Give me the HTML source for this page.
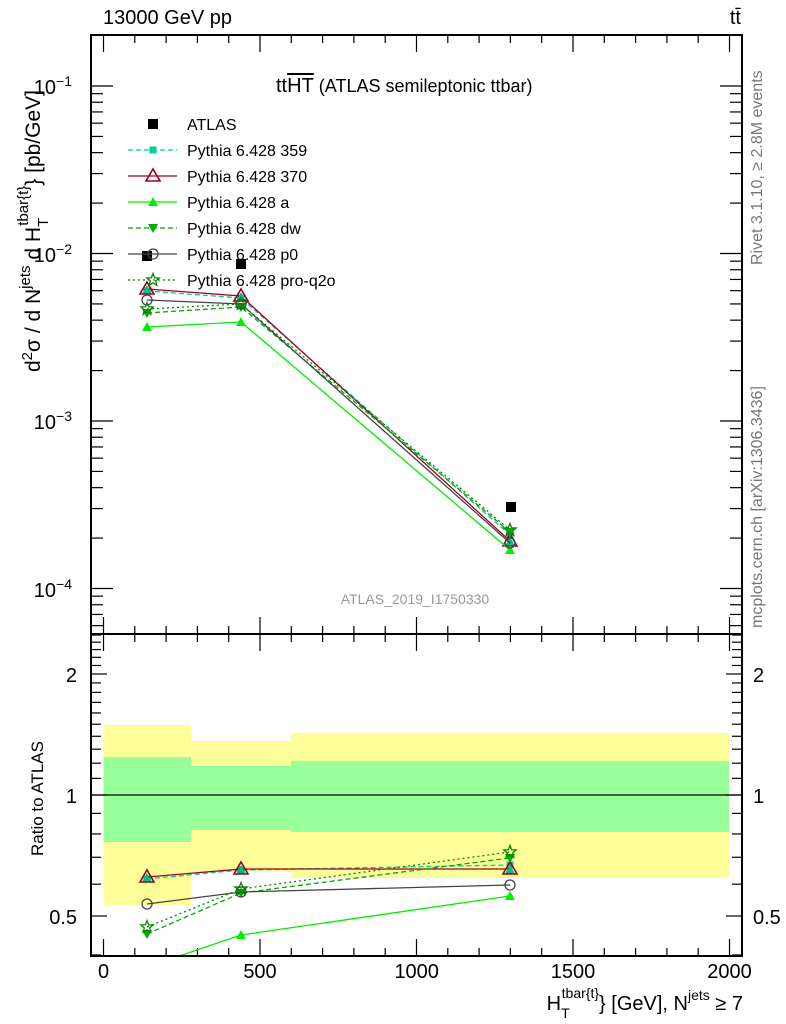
<!DOCTYPE html>
<html><head><meta charset="utf-8"><style>
body{margin:0;background:#fff}
svg{display:block;font-family:"Liberation Sans",sans-serif}
</style></head><body>
<svg id="s" width="786" height="1024" xmlns="http://www.w3.org/2000/svg">
<rect width="786" height="1024" fill="#fff"/>
<rect x="103.5" y="725" width="87.5" height="180" fill="#ffff99"/>
<rect x="191" y="741" width="100" height="131" fill="#ffff99"/>
<rect x="291" y="733" width="438" height="145" fill="#ffff99"/>
<rect x="103.5" y="757" width="87.5" height="85" fill="#99ff99"/>
<rect x="191" y="766" width="100" height="64" fill="#99ff99"/>
<rect x="291" y="761" width="438" height="71" fill="#99ff99"/>
<line x1="91" y1="795" x2="742" y2="795" stroke="#000" stroke-width="1.2"/>
<g id="ticks" stroke="#000" stroke-width="1.2"></g>
<g id="series"></g>
<rect x="91" y="35" width="651" height="599" fill="none" stroke="#000" stroke-width="2"/>
<rect x="91" y="634" width="651" height="322" fill="none" stroke="#000" stroke-width="2"/>
<g font-size="20" fill="#000">
<text x="103" y="24">13000 GeV pp</text>
<text x="741" y="24" text-anchor="end">tt̄</text>
<text x="72" y="94" text-anchor="end">10<tspan dy="-8" font-size="14">−1</tspan></text>
<text x="72" y="262" text-anchor="end">10<tspan dy="-8" font-size="14">−2</tspan></text>
<text x="72" y="429" text-anchor="end">10<tspan dy="-8" font-size="14">−3</tspan></text>
<text x="72" y="597" text-anchor="end">10<tspan dy="-8" font-size="14">−4</tspan></text>
<text x="77" y="682" text-anchor="end">2</text>
<text x="77" y="803" text-anchor="end">1</text>
<text x="77" y="924" text-anchor="end">0.5</text>
<text x="753" y="682">2</text>
<text x="753" y="803">1</text>
<text x="753" y="924">0.5</text>
<text x="103.5" y="978" text-anchor="middle">0</text>
<text x="260" y="978" text-anchor="middle">500</text>
<text x="416.7" y="978" text-anchor="middle">1000</text>
<text x="573" y="978" text-anchor="middle">1500</text>
<text x="729.5" y="978" text-anchor="middle">2000</text>
<text x="743" y="1010" text-anchor="end">H<tspan font-size="14" dy="8">T</tspan><tspan font-size="14" dx="-8" dy="-20">tbar{t}</tspan><tspan dy="12">} [GeV], N</tspan><tspan font-size="14" dy="-10">jets</tspan><tspan dy="10"> ≥ 7</tspan></text>
<text transform="translate(40,372) rotate(-90)" font-size="21">d<tspan font-size="15" dy="-8">2</tspan><tspan dy="8">σ  /  d N</tspan><tspan font-size="15" dy="-10">jets</tspan><tspan dy="10"> d H</tspan><tspan font-size="15" dy="8">T</tspan><tspan font-size="15" dx="-8" dy="-20">tbar{t}</tspan><tspan dy="12">} [pb/GeV]</tspan></text>
<text x="276" y="92">tt<tspan text-decoration="overline">HT</tspan><tspan font-size="18"> (ATLAS semileptonic ttbar)</tspan></text>
</g>
<text transform="translate(43,856) rotate(-90)" font-size="17">Ratio to ATLAS</text>
<text x="415" y="604" text-anchor="middle" font-size="14" fill="#999">ATLAS_2019_I1750330</text>
<text transform="translate(762,265) rotate(-90)" font-size="16" fill="#777">Rivet 3.1.10, ≥ 2.8M events</text>
<text transform="translate(762,628) rotate(-90)" font-size="16" fill="#777">mcplots.cern.ch [arXiv:1306.3436]</text>
<g id="legend" font-size="16"></g>
</svg>
<script>
var NS="http://www.w3.org/2000/svg";
function el(p,t,a){var e=document.createElementNS(NS,t);for(var k in a)e.setAttribute(k,a[k]);p.appendChild(e);return e;}
var T=document.getElementById("ticks");
function ln(x1,y1,x2,y2){el(T,"line",{x1:x1,y1:y1,x2:x2,y2:y2});}
for(var v=0;v<=2000;v+=100){var x=103.5+0.313*v,maj=v%500==0;
 ln(x,35,x,35+(maj?17:8));ln(x,634,x,634-(maj?17:8));
 ln(x,634,x,634+(maj?17:8));ln(x,956,x,956-(maj?17:8));}
function ym(v){return 86-167.5*(Math.log10(v)+1);}
for(var d=-5;d<=0;d++)for(var k=1;k<=9;k++){var y=ym(k*Math.pow(10,d));if(y<36||y>633)continue;var L=k==1?22:12;ln(91,y,91+L,y);ln(742,y,742-L,y);}
function yr(r){return 795-402*Math.log10(r);}
[0.4,0.5,0.6,0.7,0.8,0.9,1,1.1,1.2,1.3,1.4,1.5,1.6,1.7,1.8,1.9,2,2.1,2.2,2.3,2.4,2.5].forEach(function(r){var y=yr(r);if(y<635||y>955)return;var L=(r==0.5||r==1||r==2)?16:10;ln(91,y,91+L,y);ln(742,y,742-L,y);});
var S=document.getElementById("series");
function marker(g,type,x,y,c){
 if(type=="sq")el(g,"rect",{x:x-5,y:y-5,width:10,height:10,fill:c});
 else if(type=="sqs")el(g,"rect",{x:x-3.5,y:y-3.5,width:7,height:7,fill:c});
 else if(type=="tri")el(g,"polygon",{points:(x-7)+","+(y+5)+" "+(x+7)+","+(y+5)+" "+x+","+(y-7),fill:"none",stroke:c,"stroke-width":1.6});
 else if(type=="trif")el(g,"polygon",{points:(x-5)+","+(y+4)+" "+(x+5)+","+(y+4)+" "+x+","+(y-5),fill:c});
 else if(type=="trid")el(g,"polygon",{points:(x-5)+","+(y-4)+" "+(x+5)+","+(y-4)+" "+x+","+(y+5),fill:c});
 else if(type=="circ")el(g,"circle",{cx:x,cy:y,r:5,fill:"none",stroke:c,"stroke-width":1.3});
 else if(type=="star"){var p=[];for(var i=0;i<10;i++){var a=-Math.PI/2+i*Math.PI/5,r=i%2?2.8:6.5;p.push((x+r*Math.cos(a))+","+(y+r*Math.sin(a)));}el(g,"polygon",{points:p.join(" "),fill:"none",stroke:c,"stroke-width":1.3});}
}
var X=[147,241,510];
var ser=[
 {c:"#00cc99",d:"5,3",m:"sqs",main:[291,298,535],rat:[879,870,865]},
 {c:"#a00020",d:"",m:"tri",main:[289,296,541],rat:[877,869,869],fillC:"#00bb88"},
 {c:"#00ee00",d:"",m:"trif",main:[327,322,550],rat:[null,935,896]},
 {c:"#00aa00",d:"5,3",m:"trid",main:[313,307,532],rat:[934,893,858]},
 {c:"#444444",d:"",m:"circ",main:[300,304,543],rat:[904,892,885]},
 {c:"#008800",d:"2,3",m:"star",main:[309,304,530],rat:[927,889,852]}
];
var clip=el(S,"clipPath",{id:"cr"});el(clip,"rect",{x:91,y:634,width:651,height:322});
ser.forEach(function(s){
 var g=el(S,"g",{});
 var pts=X.map(function(x,i){return x+","+s.main[i];}).join(" ");
 el(g,"polyline",{points:pts,fill:"none",stroke:s.c,"stroke-width":1.3,"stroke-dasharray":s.d});
 var rp=[];X.forEach(function(x,i){var y=s.rat[i];if(y==null){y=967;}rp.push(x+","+y);});
 var g2=el(S,"g",{"clip-path":"url(#cr)"});
 el(g2,"polyline",{points:rp.join(" "),fill:"none",stroke:s.c,"stroke-width":1.3,"stroke-dasharray":s.d});
 X.forEach(function(x,i){
  if(s.fillC){marker(g,"trif",x,s.main[i]+1,s.fillC);}
  marker(g,s.m,x,s.main[i],s.c);
  if(s.rat[i]!=null){if(s.fillC)marker(g2,"trif",x,s.rat[i]+1,s.fillC);marker(g2,s.m,x,s.rat[i],s.c);}
 });
});
var ag=el(S,"g",{});
[[147,256],[241,264],[511,507]].forEach(function(p){marker(ag,"sq",p[0],p[1],"#000");});
var Lg=document.getElementById("legend");
var names=["ATLAS","Pythia 6.428 359","Pythia 6.428 370","Pythia 6.428 a","Pythia 6.428 dw","Pythia 6.428 p0","Pythia 6.428 pro-q2o"];
names.forEach(function(n,i){var y=124+26*i;
 var t=el(Lg,"text",{x:187,y:y+6});t.textContent=n;
 if(i==0){marker(Lg,"sq",153,y,"#000");return;}
 var s=ser[i-1];
 el(Lg,"line",{x1:128,y1:y,x2:177,y2:y,stroke:s.c,"stroke-width":1.3,"stroke-dasharray":s.d});
 marker(Lg,s.m,153,y,s.c);
});
</script>
</body></html>
